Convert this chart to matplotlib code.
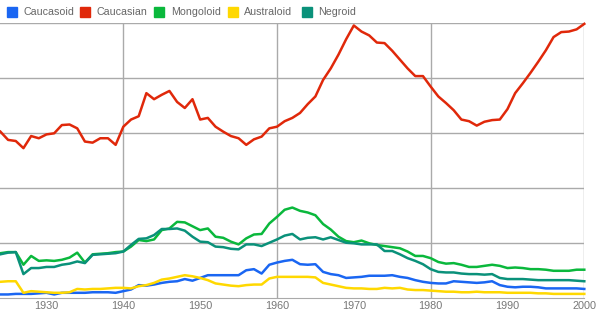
import numpy as np
import matplotlib.pyplot as plt
from matplotlib.patches import Rectangle

plt.rcParams['font.family'] = ['Liberation Sans', 'DejaVu Sans']

years = np.arange(1924, 2001)

caucasoid = [0.07, 0.07, 0.08, 0.08, 0.08, 0.09, 0.10, 0.07, 0.10, 0.10,
             0.10, 0.10, 0.11, 0.11, 0.11, 0.10, 0.13, 0.16, 0.24, 0.23,
             0.25, 0.28, 0.30, 0.31, 0.35, 0.32, 0.37, 0.42, 0.42, 0.42,
             0.42, 0.42, 0.51, 0.53, 0.45, 0.61, 0.65, 0.68, 0.70, 0.62,
             0.61, 0.62, 0.48, 0.44, 0.42, 0.37, 0.38, 0.39, 0.41, 0.41,
             0.41, 0.42, 0.39, 0.37, 0.33, 0.30, 0.28, 0.27, 0.27, 0.31,
             0.30, 0.29, 0.28, 0.29, 0.31, 0.24, 0.21, 0.20, 0.21, 0.21,
             0.20, 0.18, 0.18, 0.18, 0.18, 0.18, 0.17]

caucasian = [3.03, 2.88, 2.86, 2.73, 2.95, 2.91, 2.98, 3.00, 3.15, 3.16,
             3.09, 2.85, 2.83, 2.91, 2.91, 2.79, 3.12, 3.25, 3.31, 3.73,
             3.62, 3.70, 3.77, 3.57, 3.46, 3.62, 3.25, 3.28, 3.12, 3.03,
             2.95, 2.91, 2.79, 2.89, 2.94, 3.09, 3.12, 3.22, 3.28, 3.37,
             3.53, 3.67, 3.97, 4.18, 4.43, 4.71, 4.96, 4.85, 4.78, 4.65,
             4.64, 4.50, 4.34, 4.18, 4.04, 4.04, 3.85, 3.67, 3.55, 3.42,
             3.25, 3.22, 3.14, 3.21, 3.24, 3.25, 3.44, 3.73, 3.91, 4.10,
             4.30, 4.51, 4.75, 4.84, 4.85, 4.89, 4.99]

mongoloid = [0.82, 0.84, 0.84, 0.61, 0.77, 0.68, 0.69, 0.68, 0.70, 0.74,
             0.83, 0.65, 0.80, 0.81, 0.82, 0.84, 0.85, 0.94, 1.06, 1.04,
             1.07, 1.24, 1.27, 1.39, 1.38, 1.31, 1.24, 1.27, 1.12, 1.10,
             1.03, 0.98, 1.09, 1.16, 1.17, 1.36, 1.48, 1.61, 1.65, 1.59,
             1.56, 1.51, 1.35, 1.25, 1.12, 1.04, 1.02, 1.05, 1.00, 0.97,
             0.95, 0.93, 0.91, 0.85, 0.77, 0.77, 0.73, 0.66, 0.63, 0.64,
             0.61, 0.57, 0.57, 0.59, 0.61, 0.59, 0.55, 0.56, 0.55, 0.53,
             0.53, 0.52, 0.50, 0.50, 0.50, 0.52, 0.52]

australoid = [0.30, 0.31, 0.31, 0.10, 0.13, 0.12, 0.11, 0.10, 0.10, 0.11,
              0.17, 0.16, 0.17, 0.17, 0.18, 0.19, 0.19, 0.18, 0.22, 0.24,
              0.28, 0.34, 0.36, 0.39, 0.42, 0.40, 0.37, 0.33, 0.27, 0.25,
              0.23, 0.22, 0.24, 0.25, 0.25, 0.36, 0.39, 0.39, 0.39, 0.39,
              0.39, 0.38, 0.28, 0.25, 0.22, 0.19, 0.18, 0.18, 0.17, 0.17,
              0.19, 0.18, 0.19, 0.16, 0.15, 0.15, 0.14, 0.13, 0.12, 0.12,
              0.11, 0.11, 0.12, 0.11, 0.11, 0.11, 0.10, 0.10, 0.10, 0.10,
              0.09, 0.09, 0.08, 0.08, 0.08, 0.08, 0.08]

negroid = [0.80, 0.83, 0.84, 0.44, 0.55, 0.55, 0.57, 0.57, 0.61, 0.63,
           0.67, 0.64, 0.79, 0.80, 0.81, 0.82, 0.85, 0.97, 1.08, 1.09,
           1.15, 1.26, 1.26, 1.27, 1.23, 1.12, 1.03, 1.02, 0.94, 0.93,
           0.90, 0.89, 0.98, 0.98, 0.95, 1.01, 1.07, 1.14, 1.17, 1.07,
           1.10, 1.11, 1.07, 1.11, 1.06, 1.01, 1.00, 0.98, 0.98, 0.98,
           0.86, 0.86, 0.80, 0.73, 0.68, 0.62, 0.53, 0.48, 0.47, 0.47,
           0.45, 0.44, 0.44, 0.43, 0.44, 0.37, 0.35, 0.35, 0.35, 0.34,
           0.33, 0.33, 0.33, 0.33, 0.33, 0.32, 0.31]

labels = ["Caucasoid", "Caucasian", "Mongoloid", "Australoid", "Negroid"]
series = [caucasoid, caucasian, mongoloid, australoid, negroid]
colors = ["#1a66f2", "#e0280a", "#0ab83c", "#ffd800", "#0a917a"]
tick_years = [1930, 1940, 1950, 1960, 1970, 1980, 1990, 2000]

fig = plt.figure(figsize=(6.0, 3.22), dpi=100)
ax = fig.add_axes([0.4 / 600, (322 - 298.3) / 322, 583.9 / 600, 275 / 322])

grid_col = "#aaaaaa"
for yv in range(1, 6):
    ax.axhline(yv, color=grid_col, lw=1, zorder=1)
for xv in [1940, 1960, 1980, 2000]:
    ax.axvline(xv, color=grid_col, lw=1, zorder=1)

for vals, col in zip(series, colors):
    ax.plot(years, vals, color=col, lw=1.8, zorder=3, clip_on=False,
            solid_joinstyle='round')

ax.set_xlim(1924, 2000)
ax.set_ylim(0, 5)
for side in ["left", "top", "right"]:
    ax.spines[side].set_visible(False)
ax.spines["bottom"].set_color(grid_col)
ax.set_yticks([])
ax.set_xticks(tick_years)
ax.set_xticklabels([str(y) for y in tick_years])
ax.tick_params(axis='x', length=0, pad=2, labelsize=7.8, labelcolor="#777777")

# legend row along the top
leg_x = [6.7, 80.0, 154.3, 227.7, 301.7]
for x0, lab, col in zip(leg_x, labels, colors):
    fig.patches.append(Rectangle((x0 / 600, 1 - 17.3 / 322), 10 / 600, 10 / 322,
                                 transform=fig.transFigure, color=col))
    fig.text((x0 + 16.5) / 600, 1 - 12.3 / 322, lab, fontsize=7.7,
             color="#666666", va="center", ha="left")

fig.savefig("out.png", dpi=100)
